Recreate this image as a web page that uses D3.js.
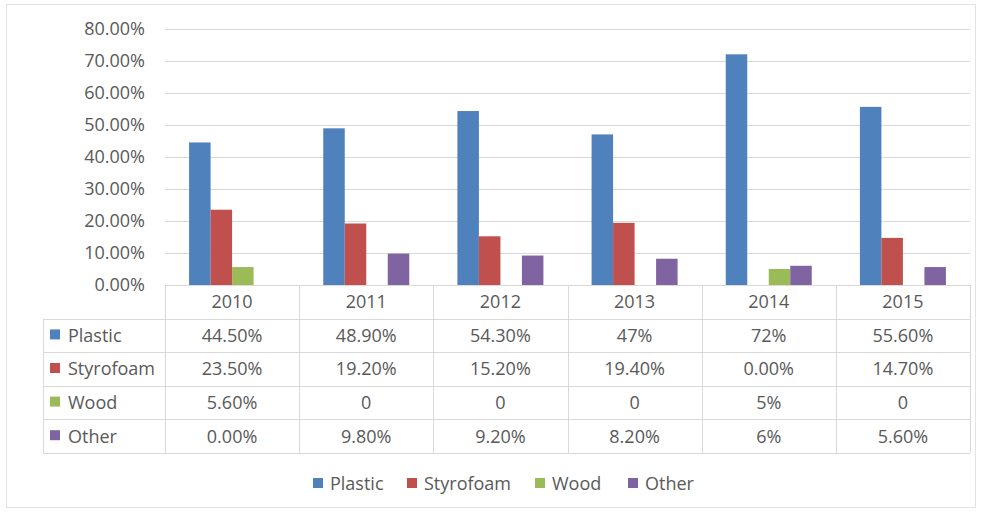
<!DOCTYPE html>
<html>
<head>
<meta charset="utf-8">
<script src="https://cdn.jsdelivr.net/npm/d3@7"></script>
<style>
  html, body { margin: 0; padding: 0; background: #fff; }
  svg text { font-family: "Open Sans", "Noto Sans", sans-serif; fill: #595959; }
</style>
</head>
<body>
<svg id="chart" width="982" height="513"></svg>
<script>
// Share of debris type by year
const years = ["2010", "2011", "2012", "2013", "2014", "2015"];
const seriesNames = ["Plastic", "Styrofoam", "Wood", "Other"];
const plastic   = [44.5, 48.9, 54.3, 47, 72, 55.6];
const styrofoam = [23.5, 19.2, 15.2, 19.4, 0, 14.7];
const wood      = [5.6, 0, 0, 0, 5, 0];
const other     = [0, 9.8, 9.2, 8.2, 6, 5.6];
// Values as printed in the data table
const plasticLabels   = ["44.50%", "48.90%", "54.30%", "47%", "72%", "55.60%"];
const styrofoamLabels = ["23.50%", "19.20%", "15.20%", "19.40%", "0.00%", "14.70%"];
const woodLabels      = ["5.60%", "0", "0", "0", "5%", "0"];
const otherLabels     = ["0.00%", "9.80%", "9.20%", "8.20%", "6%", "5.60%"];
const yTicks = [0, 10, 20, 30, 40, 50, 60, 70, 80];
const colors = ["#4F81BD", "#C0504D", "#9BBB59", "#8064A2"];

const seriesValues = [plastic, styrofoam, wood, other];
const seriesLabels = [plasticLabels, styrofoamLabels, woodLabels, otherLabels];

const svg = d3.select("#chart");
const grid = "#D9D9D9";
const fontSize = "18px";

// outer chart frame
svg.append("rect")
  .attr("x", 6.5).attr("y", 4.5).attr("width", 969).attr("height", 503)
  .attr("fill", "none").attr("stroke", "#E3E3E3");

const plotLeft = 165, plotRight = 970, plotTop = 28.7, plotBottom = 285;

const x = d3.scaleBand().domain(years).range([plotLeft, plotRight]);
const y = d3.scaleLinear().domain([0, 80]).range([plotBottom, plotTop]);
const inner = d3.scaleBand().domain(seriesNames)
  .range([0, x.bandwidth()]).paddingOuter(1.12);

// gridlines
svg.append("g").selectAll("line").data(yTicks).join("line")
  .attr("x1", plotLeft).attr("x2", plotRight)
  .attr("y1", d => Math.round(y(d)) + 0.5).attr("y2", d => Math.round(y(d)) + 0.5)
  .attr("stroke", grid).attr("stroke-width", 1);

// y axis labels
const yAxis = svg.append("g").attr("transform", `translate(${plotLeft},0)`)
  .call(d3.axisLeft(y).tickValues(yTicks).tickSize(0).tickPadding(20)
    .tickFormat(d => d.toFixed(2) + "%"));
yAxis.select(".domain").remove();
yAxis.selectAll("text").style("font-size", fontSize).attr("fill", "#595959");

// bars
seriesNames.forEach((name, si) => {
  svg.append("g").selectAll("rect").data(seriesValues[si]).join("rect")
    .attr("x", (d, i) => x(years[i]) + inner(name))
    .attr("y", d => y(d))
    .attr("width", inner.bandwidth())
    .attr("height", d => y(0) - y(d))
    .attr("fill", colors[si]);
});

// data table
const tableLeft = 43, headerTop = plotBottom, rowH = 33.6;
const rowTop = i => headerTop + rowH * (i + 1);
const tableBottom = rowTop(seriesNames.length);
const tbl = svg.append("g").attr("stroke", grid).attr("stroke-width", 1).attr("fill", "none");
// horizontal lines
tbl.append("line").attr("x1", plotLeft).attr("x2", plotRight)
  .attr("y1", headerTop + 0.5).attr("y2", headerTop + 0.5);
d3.range(seriesNames.length + 1).forEach(i => {
  const yy = Math.round(rowTop(i)) + 0.5;
  tbl.append("line").attr("x1", tableLeft).attr("x2", plotRight).attr("y1", yy).attr("y2", yy);
});
// vertical lines
const vx = years.map(c => x(c)).concat([plotRight]);
vx.forEach(v => {
  tbl.append("line").attr("x1", Math.round(v) + 0.5).attr("x2", Math.round(v) + 0.5)
    .attr("y1", headerTop).attr("y2", tableBottom);
});
tbl.append("line").attr("x1", tableLeft + 0.5).attr("x2", tableLeft + 0.5)
  .attr("y1", rowTop(0)).attr("y2", tableBottom);

// header categories
svg.append("g").selectAll("text").data(years).join("text")
  .attr("x", d => x(d) + x.bandwidth() / 2)
  .attr("y", (headerTop + rowTop(0)) / 2)
  .attr("dy", "0.35em").attr("text-anchor", "middle")
  .style("font-size", fontSize).text(d => d);

// series rows
seriesNames.forEach((name, si) => {
  const cy = rowTop(si) + rowH / 2;
  svg.append("rect").attr("x", 50).attr("y", cy - 6).attr("width", 10).attr("height", 10)
    .attr("fill", colors[si]);
  svg.append("text").attr("x", 68).attr("y", cy).attr("dy", "0.35em")
    .style("font-size", fontSize).text(name);
  svg.append("g").selectAll("text").data(seriesLabels[si]).join("text")
    .attr("x", (d, i) => x(years[i]) + x.bandwidth() / 2)
    .attr("y", cy).attr("dy", "0.35em").attr("text-anchor", "middle")
    .style("font-size", fontSize).text(d => d);
});

// legend
const legendX = [313, 407, 535, 628];
const lg = svg.append("g").selectAll("g").data(seriesNames).join("g")
  .attr("transform", (d, i) => `translate(${legendX[i]},484)`);
lg.append("rect").attr("x", 0).attr("y", -6).attr("width", 10).attr("height", 10)
  .attr("fill", (d, i) => colors[i]);
lg.append("text").attr("x", 17).attr("y", 0).attr("dy", "0.35em")
  .style("font-size", fontSize).text(d => d);
</script>
</body>
</html>
